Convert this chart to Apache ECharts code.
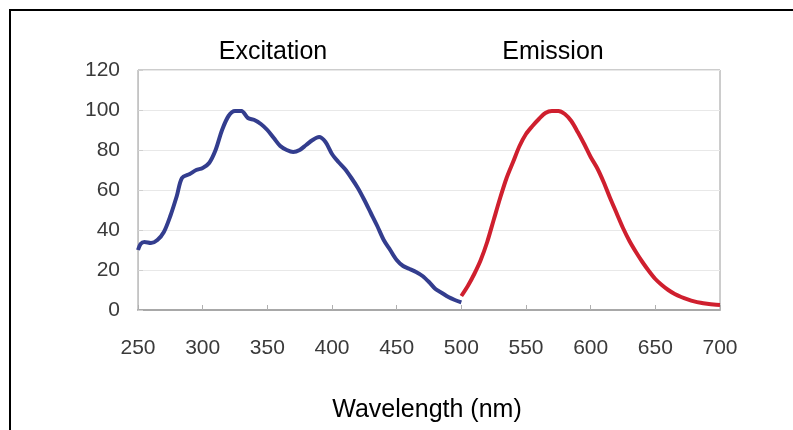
<!DOCTYPE html>
<html>
<head>
<meta charset="utf-8">
<script src="https://cdn.jsdelivr.net/npm/echarts@6/dist/echarts.min.js"></script>
<style>
  html, body { margin:0; padding:0; background:#fff; }
  #chart { width:793px; height:430px; }
</style>
</head>
<body>
<div id="chart"></div>
<script>
// wavelength (nm) / relative intensity (%)
const excitationWl = [250,252,255,260,265,270,275,280,284,290,295,300,305,310,315,320,325,330,335,340,345,350,355,360,365,370,375,380,385,390,395,400,405,410,415,420,425,430,435,440,445,450,455,460,465,470,475,480,485,490,495,500];
const excitationVal = [30,33,34,33.5,35,39,47,57,66,68,70,71,73.5,80,90,97,99.5,99.5,96,95,93,90,86,82,80,79,80,82.5,85,86.5,84,78,74,70.5,66,61,55,48.5,42,35,30,25,22,20.5,19,17,14,10.5,8.5,6.5,5,3.8];
const emissionWl = [500,505,510,515,520,525,530,535,540,545,550,555,560,565,570,575,580,585,590,595,600,605,610,615,620,625,630,635,640,645,650,655,660,665,670,675,680,685,690,695,700];
const emissionVal = [7,12,18,25,34,45,56,66,74,82,88,92,95.5,98.5,99.5,99.5,98,94.5,89,83,76.5,71,64,56,48.5,41,34.5,29,24,19.5,15.5,12.5,10,8,6.5,5.3,4.3,3.6,3.1,2.7,2.5];
const seriesNames = ['Excitation', 'Emission'];
const xTitle = 'Wavelength (nm)';

const chart = echarts.init(document.getElementById('chart'));
const font = '"Liberation Sans", Arial, sans-serif';

let option = {
    animation:false,
    grid:{
        left:138,
        right:73,
        top:70,
        bottom:120,
        show:true,
        borderColor:'#9a9a9a',
        borderWidth:1
    },
    xAxis:{
        type:'value',
        min:250,
        max:700,
        interval:50,
        axisLine:{ lineStyle:{ color:'#a8a8a8', width:2 } },
        axisTick:{ show:true, inside:true, length:5, lineStyle:{ color:'#b0b0b0' } },
        axisLabel:{ color:'#3a3a3a', fontSize:21, fontFamily:font, margin:28 },
        splitLine:{ show:false }
    },
    yAxis:{
        type:'value',
        min:0,
        max:120,
        interval:20,
        axisLine:{ show:true, lineStyle:{ color:'#c4c4c4' } },
        axisTick:{ show:true, inside:true, length:5, lineStyle:{ color:'#d0d0d0' } },
        axisLabel:{ color:'#3a3a3a', fontSize:21, fontFamily:font, margin:18 },
        splitLine:{ show:true, lineStyle:{ color:'#e8e8e8' } }
    },
    series:[
        {
            type:'line',
            name:seriesNames[0],
            symbol:'none',
            smooth:0.3,
            lineStyle:{ color:'#333d8e', width:4 },
            data:excitationWl.map((w,i)=>[w, excitationVal[i]])
        },
        {
            type:'line',
            name:seriesNames[1],
            symbol:'none',
            smooth:0.3,
            lineStyle:{ color:'#cf1f2e', width:4 },
            data:emissionWl.map((w,i)=>[w, emissionVal[i]])
        }
    ],
    graphic:[
        {
            type:'rect',
            shape:{ x:10, y:10, width:800, height:440 },
            style:{ fill:'none', stroke:'#000', lineWidth:2 },
            silent:true
        },
        {
            type:'text', x:273, y:52,
            style:{ text:seriesNames[0], fill:'#000', font:'25px ' + font, textAlign:'center', textVerticalAlign:'middle' }
        },
        {
            type:'text', x:553, y:52,
            style:{ text:seriesNames[1], fill:'#000', font:'25px ' + font, textAlign:'center', textVerticalAlign:'middle' }
        },
        {
            type:'text', x:427, y:410,
            style:{ text:xTitle, fill:'#000', font:'25px ' + font, textAlign:'center', textVerticalAlign:'middle' }
        }
    ]
};
chart.setOption(option);
</script>
</body>
</html>
